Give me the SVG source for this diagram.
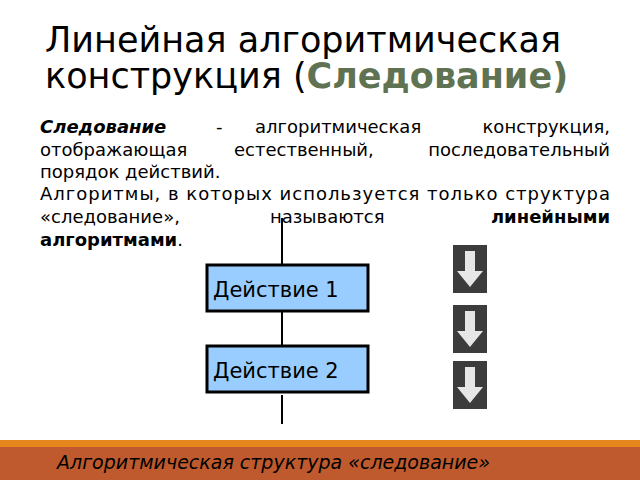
<svg xmlns="http://www.w3.org/2000/svg" width="640" height="480" viewBox="0 0 640 480">
<style>
text{font-family:"DejaVu Sans","Liberation Sans",sans-serif;fill:#000}
.t{font-size:35px}
.b{font-size:18px}
.bx{fill:#99ccff;stroke:#000;stroke-width:3}
.ln{stroke:#000;stroke-width:2;fill:none}
.nl{font-size:21px}
</style>
<rect width="640" height="480" fill="#fff"/>
<text class="t" x="45" y="52">Линейная алгоритмическая</text>
<text class="t" x="45" y="88">конструкция (<tspan font-weight="bold" fill="#5f7352">Следование)</tspan></text>
<text class="b" x="40" y="133" font-weight="bold" font-style="italic">Следование</text>
<text class="b" x="216" y="133">-</text>
<text class="b" x="255" y="133">алгоритмическая</text>
<text class="b" x="610" y="133" text-anchor="end">конструкция,</text>
<text class="b" x="40" y="156">отображающая</text>
<text class="b" x="234" y="156">естественный,</text>
<text class="b" x="610" y="156" text-anchor="end">последовательный</text>
<text class="b" x="40" y="178">порядок действий.</text>
<text class="b" x="40" y="200" textLength="570" lengthAdjust="spacing">Алгоритмы, в которых используется только структура</text>
<text class="b" x="40" y="223">«следование»,</text>
<text class="b" x="270" y="223">называются</text>
<text class="b" x="610" y="223" text-anchor="end" font-weight="bold">линейными</text>
<text class="b" x="40" y="246"><tspan font-weight="bold">алгоритмами</tspan>.</text>
<g id="connectors">
<line class="ln" x1="282" y1="218" x2="282" y2="264"/>
<line class="ln" x1="282" y1="311" x2="282" y2="345"/>
<line class="ln" x1="282" y1="395" x2="282" y2="424"/>
</g>
<g id="node1"><rect class="bx" x="207" y="265" width="161" height="46"/><text class="nl" x="213" y="297">Действие 1</text></g>
<g id="node2"><rect class="bx" x="207" y="346" width="161" height="46"/><text class="nl" x="213" y="378">Действие 2</text></g>
<defs>
<g id="arr"><rect width="34" height="48" fill="#3c3c3c"/><path d="M12 6h10v20h8l-13 16-13-16h8z" fill="#e6e6e6"/></g>
</defs>
<use href="#arr" x="453" y="245"/>
<use href="#arr" x="453" y="305"/>
<use href="#arr" x="453" y="361"/>
<rect x="0" y="440" width="640" height="8" fill="#e6871e"/>
<rect x="0" y="447" width="640" height="33" fill="#bf5a2e"/>
<text x="57" y="469" font-size="19" font-style="italic">Алгоритмическая структура «следование»</text>
</svg>
